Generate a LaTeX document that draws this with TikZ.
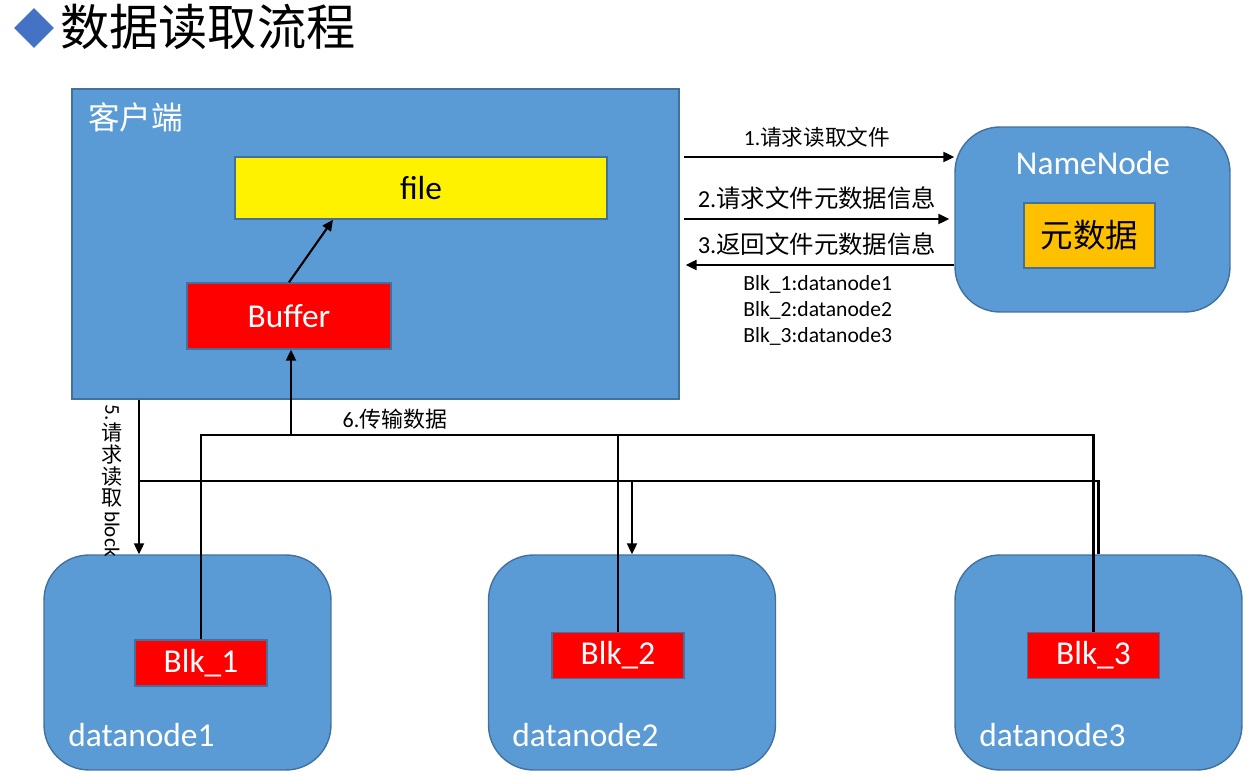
\documentclass[tikz,border=0pt]{standalone}
\usepackage{fontspec}
\setmainfont{Carlito}
\newfontfamily\cjk{Noto Sans CJK SC}
\usepackage{graphicx}
\usepackage{tikz}
\usetikzlibrary{arrows.meta,shapes.geometric}

\definecolor{boxblue}{HTML}{5B9BD5}
\definecolor{edgeblue}{HTML}{41719C}
\definecolor{metaorange}{HTML}{FFC000}
\definecolor{titleblue}{HTML}{4472C4}

\tikzset{
  bluebox/.style={draw=edgeblue, fill=boxblue, line width=0.8pt, inner sep=0pt},
  roundbox/.style={bluebox, rounded corners=0.9cm},
  blkbox/.style={draw=edgeblue, fill=red, line width=0.8pt, minimum width=2.64cm, minimum height=0.92cm, text=white, big},
  big/.style={font=\fontsize{19}{22}\selectfont},
  msg/.style={font=\fontsize{12.3}{14.7}\selectfont, inner sep=0pt},
  wire/.style={line width=1.2pt},
}

\begin{document}
\begin{tikzpicture}[x=0.02cm, y=-0.02cm, >={Triangle[length=0.22cm,width=0.2cm]}]
            \useasboundingbox (0,0) rectangle (1259,776);

            \node[diamond, fill=titleblue, minimum size=0.8cm, inner sep=0pt] (mark) at (34,28) {}; % title
            \node[anchor=west, inner sep=0pt, font=\cjk\fontsize{28}{32}\selectfont] (title) at (60,27) {数据读取流程};

            \node[bluebox, minimum width=12.14cm, minimum height=6.2cm] (client) at (375.5,244) {}; % client
            \node[anchor=west, inner sep=0pt, text=white, font=\cjk\fontsize{18}{20}\selectfont] (clientlbl) at (88,117) {客户端};
            \node[draw=edgeblue, fill=yellow, line width=0.8pt, minimum width=7.44cm, minimum height=1.24cm, big] (file) at (421,188) {file};
            \node[blkbox, minimum width=4.08cm, minimum height=1.32cm] (buffer) at (289,316) {Buffer};

            \node[roundbox, minimum width=5.5cm, minimum height=3.7cm] (nn) at (1092.5,219.5) {}; % NameNode
            \node[text=white, big, inner sep=0pt] (nnlbl) at (1093,163) {NameNode};
            \node[draw=edgeblue, fill=metaorange, line width=0.8pt, minimum width=2.62cm, minimum height=1.3cm, font=\cjk\fontsize{18.5}{20}\selectfont] (meta) at (1089.5,235.5) {元数据};

            \node[roundbox, minimum width=5.74cm, minimum height=4.3cm] (dn1) at (187.5,662.5) {}; % datanode1
            \node[blkbox] (blk1) at (201,663) {Blk\_1};
            \node[anchor=west, text=white, big, inner sep=0pt] (dn1lbl) at (68,735) {datanode1};

            \node[roundbox, minimum width=5.74cm, minimum height=4.3cm] (dn2) at (632,662.5) {}; % datanode2
            \node[blkbox] (blk2) at (618,655.5) {Blk\_2};
            \node[anchor=west, text=white, big, inner sep=0pt] (dn2lbl) at (512,735) {datanode2};

            \node[roundbox, minimum width=5.74cm, minimum height=4.3cm] (dn3) at (1098.5,662.5) {}; % datanode3
            \node[blkbox] (blk3) at (1093.5,655.5) {Blk\_3};
            \node[anchor=west, text=white, big, inner sep=0pt] (dn3lbl) at (979,735) {datanode3};

            \coordinate (row1) at (0,157);
            \coordinate (row2) at (0,219);
            \coordinate (row3) at (0,265);
            \coordinate (colf) at (333,0);
            \coordinate (j5) at (139,481);
            \coordinate (j6) at (291,435);

            \draw[wire, ->] (buffer.north) -- (file.south -| colf); % Buffer to file
            \draw[wire, ->, shorten <=0.08cm] (client.east |- row1) -- (nn.west |- row1) node[msg, midway, above=0.17cm] (m1) {1.\cjk 请求读取文件}; % 1
            \draw[wire, ->, shorten <=0.08cm, shorten >=0.1cm] (client.east |- row2) -- (nn.west |- row2) node[msg, midway, above=0.17cm, font=\fontsize{13.9}{16}\selectfont] (m2) {2.\cjk 请求文件元数据信息}; % 2
            \draw[wire, <-, shorten <=0.12cm] (client.east |- row3) -- (nn.west |- row3) node[msg, midway, above=0.17cm, font=\fontsize{13.9}{16}\selectfont] (m3) {3.\cjk 返回文件元数据信息}; % 3
            \node[msg, anchor=north west, align=left] (blkinfo) at (743,275) {Blk\_1:datanode1\\Blk\_2:datanode2\\Blk\_3:datanode3};

            \draw[wire, ->] (client.south -| j5) -- (dn1.north -| j5); % 5
            \draw[wire, ->] (j5) -| (dn2.north);
            \draw[wire] (j5) -| (dn3.north);
            \node[msg, anchor=north, align=center, font=\fontsize{12}{12}\selectfont\offinterlineskip] (m5) at (112,404) {\rotatebox[origin=c]{-90}{5.}\\[1.5pt]{\cjk 请}\\[1.5pt]{\cjk 求}\\[1.5pt]{\cjk 读}\\[1.5pt]{\cjk 取}\\[2pt]\rotatebox[origin=c]{-90}{block}};

            \draw[wire, ->] (j6) -- (buffer.south -| j6); % 6
            \draw[wire] (blk1.north) |- (j6);
            \draw[wire] (blk2.north) |- (j6);
            \draw[wire] (blk3.north) |- (j6);
            \node[msg, font=\fontsize{12.5}{15}\selectfont] (m6) at (395,419) {6.\cjk 传输数据};

        \end{tikzpicture}
\end{document}
